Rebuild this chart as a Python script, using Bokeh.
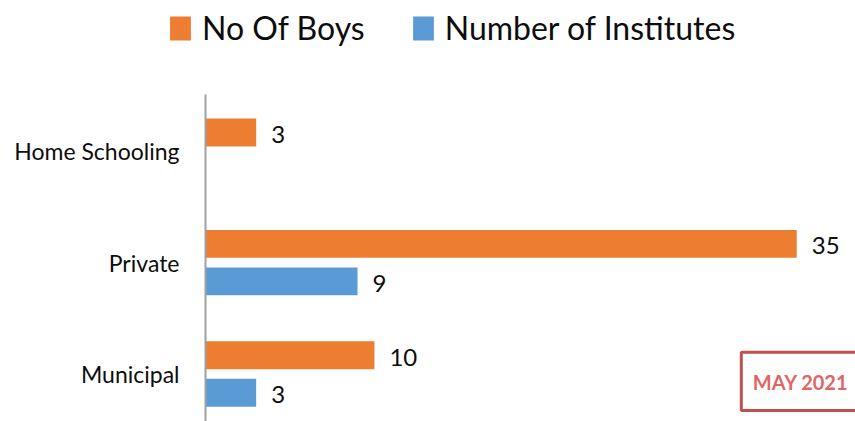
from bokeh.plotting import figure
from bokeh.layouts import column
from bokeh.models import (ColumnDataSource, Range1d, FixedTicker, Legend, LegendItem,
                          BoxAnnotation, Label)
from bokeh.core.properties import value
from bokeh.embed import file_html
from bokeh.resources import INLINE

# ---- data ----
categories = ["Home Schooling", "Private", "Municipal"]
boys = [3, 35, 10]
institutes = [None, 9, 3]
series_names = ["No Of Boys", "Number of Institutes"]
badge_text = "MAY 2021"

ORANGE = "#ED7D31"
BLUE = "#5B9BD5"
TEXT = "#0d0d0d"
FONT = "Lato"

n = len(categories)
pos = [n - 1 - i for i in range(n)]
OFF = 0.168
H = 0.25


def make_src(vals, off):
    ys, vs, ls = [], [], []
    for p_, v in zip(pos, vals):
        if v is None:
            continue
        ys.append(p_ + off)
        vs.append(v)
        ls.append(str(v))
    return ColumnDataSource(dict(y=ys, v=vs, lbl=ls))


src_b = make_src(boys, OFF)
src_i = make_src(institutes, -OFF)

# ---- main chart ----
p = figure(width=855, height=327, output_backend="svg", toolbar_location=None,
           x_range=Range1d(0, 38.48), y_range=Range1d(-0.4265, 2.5096),
           min_border_left=205, min_border_right=0, min_border_top=0,
           min_border_bottom=0)
p.frame_align = False
p.xaxis.visible = False
p.outline_line_color = None
p.grid.visible = False

rb = p.hbar(y="y", left=0, right="v", height=H,
            fill_color=ORANGE, line_color=None, source=src_b)
ri = p.hbar(y="y", left=0, right="v", height=H,
            fill_color=BLUE, line_color=None, source=src_i)

for src in (src_b, src_i):
    p.text(x="v", y="y", text="lbl", source=src,
           x_offset=15, y_offset=2, text_baseline="middle", text_align="left",
           text_font=value(FONT), text_font_size="24px", text_color=TEXT)

p.yaxis.ticker = FixedTicker(ticks=pos)
p.yaxis.major_label_overrides = {int(p_): c for p_, c in zip(pos, categories)}
p.yaxis.major_label_text_font = FONT
p.yaxis.major_label_text_font_size = "23px"
p.yaxis.major_label_text_color = TEXT
p.yaxis.major_label_standoff = 20
p.yaxis.major_tick_line_color = None
p.yaxis.minor_tick_line_color = None
p.yaxis.axis_line_color = "#A0A0A0"
p.yaxis.axis_line_width = 2

box = BoxAnnotation(left=31.72, right=40, top=0.196, bottom=-0.328,
                    fill_alpha=0, line_color="#C0504D", line_alpha=1, line_width=3)
p.add_layout(box)
p.add_layout(Label(x=35.23, y=-0.074, text=badge_text, text_align="center",
                   text_baseline="middle", text_font=FONT, text_font_style="bold",
                   text_font_size="20px", text_color="#E06666"))

# ---- legend strip (own small figure so the legend is not clipped) ----
lf = figure(width=855, height=94, output_backend="svg", toolbar_location=None,
            x_range=Range1d(0, 1), y_range=Range1d(0, 1),
            min_border_left=0, min_border_right=0, min_border_top=0,
            min_border_bottom=0, x_axis_location=None, y_axis_location=None)
lf.frame_align = False
lf.outline_line_color = None
lf.grid.visible = False
# off-range swatch renderers (outside the visible y range), used only by the legend
lb = lf.hbar(y=[-5], left=[0], right=[0], height=0.1, fill_color=ORANGE, line_color=None)
li = lf.hbar(y=[-5], left=[0], right=[0], height=0.1, fill_color=BLUE, line_color=None)

legend = Legend(items=[LegendItem(label=series_names[0], renderers=[lb]),
                       LegendItem(label=series_names[1], renderers=[li])],
                orientation="horizontal", location=(167, 47),
                label_text_font=FONT, label_text_font_size="32px",
                label_text_color=TEXT, glyph_width=26, glyph_height=30,
                label_standoff=9, spacing=45, padding=0, margin=0,
                border_line_color=None, background_fill_alpha=0)
lf.add_layout(legend)

layout = column(lf, p, spacing=0)
open("out.html", "w").write(file_html(layout, INLINE))
